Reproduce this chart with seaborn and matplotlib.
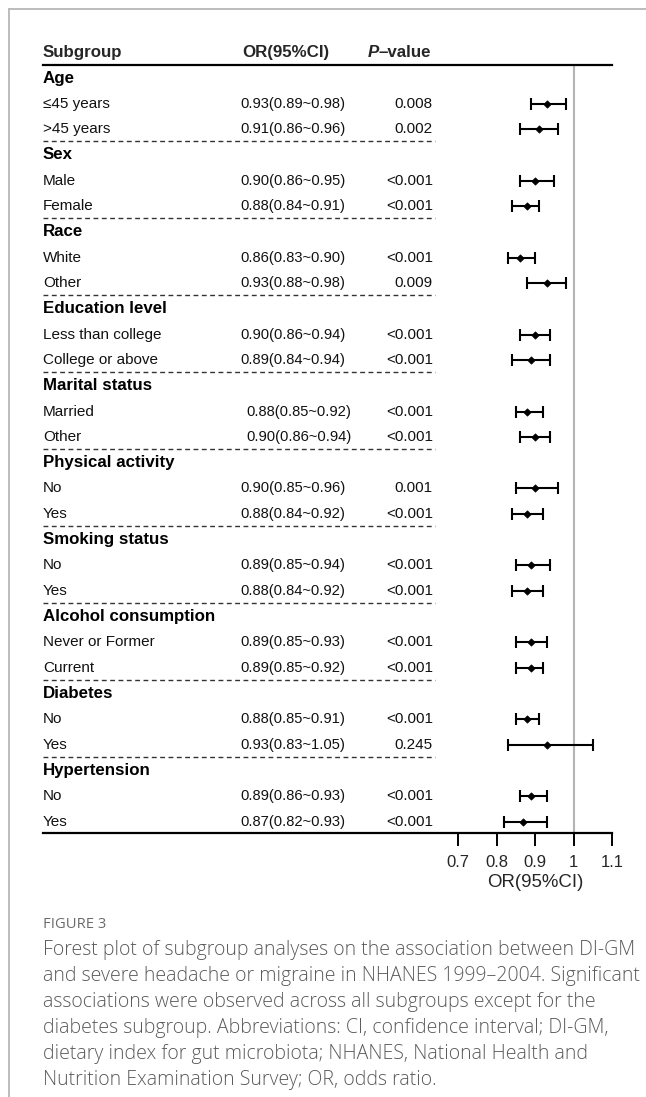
import matplotlib
matplotlib.use("Agg")
import matplotlib.pyplot as plt
import seaborn as sns
import numpy as np
import pandas as pd

sns.set_theme(style="white")
plt.rcParams["font.family"] = ["Liberation Sans", "DejaVu Sans"]

# ---- data -------------------------------------------------------------
groups = ["Age", "Sex", "Race", "Education level", "Marital status",
          "Physical activity", "Smoking status", "Alcohol consumption",
          "Diabetes", "Hypertension"]
subgroups = [["≤45 years", ">45 years"], ["Male", "Female"], ["White", "Other"],
             ["Less than college", "College or above"], ["Married", "Other"],
             ["No", "Yes"], ["No", "Yes"], ["Never or Former", "Current"],
             ["No", "Yes"], ["No", "Yes"]]
or_est = [0.93, 0.91, 0.90, 0.88, 0.86, 0.93, 0.90, 0.89, 0.88, 0.90,
          0.90, 0.88, 0.89, 0.88, 0.89, 0.89, 0.88, 0.93, 0.89, 0.87]
ci_low = [0.89, 0.86, 0.86, 0.84, 0.83, 0.88, 0.86, 0.84, 0.85, 0.86,
          0.85, 0.84, 0.85, 0.84, 0.85, 0.85, 0.85, 0.83, 0.86, 0.82]
ci_high = [0.98, 0.96, 0.95, 0.91, 0.90, 0.98, 0.94, 0.94, 0.92, 0.94,
           0.96, 0.92, 0.94, 0.92, 0.93, 0.92, 0.91, 1.05, 0.93, 0.93]
p_values = ["0.008", "0.002", "<0.001", "<0.001", "<0.001", "0.009",
            "<0.001", "<0.001", "<0.001", "<0.001", "0.001", "<0.001",
            "<0.001", "<0.001", "<0.001", "<0.001", "<0.001", "0.245",
            "<0.001", "<0.001"]
x_ticks = [0.7, 0.8, 0.9, 1.0, 1.1]
x_tick_labels = ["0.7", "0.8", "0.9", "1", "1.1"]

caption_head = "FIGURE 3"
caption_lines = [
    "Forest plot of subgroup analyses on the association between DI-GM",
    "and severe headache or migraine in NHANES 1999\u20132004. Significant",
    "associations were observed across all subgroups except for the",
    "diabetes subgroup. Abbreviations: CI, confidence interval; DI-GM,",
    "dietary index for gut microbiota; NHANES, National Health and",
    "Nutrition Examination Survey; OR, odds ratio.",
]

# ---- table layout -------------------------------------------------------
rows = []
k = 0
for g, subs in zip(groups, subgroups):
    rows.append(dict(label=g, header=True))
    for s in subs:
        rows.append(dict(label=s, header=False, est=or_est[k], lo=ci_low[k],
                         hi=ci_high[k], p=p_values[k], grp=g))
        k += 1
tab = pd.DataFrame(rows)
tab["y"] = np.arange(len(tab))
est = tab[~tab["header"]].copy()

W, H = 646, 1097
fig = plt.figure(figsize=(W / 100, H / 100), dpi=100)

# axes box spans the whole table width; the data scale is OR
ax_l, ax_r, ax_t, ax_b = 43, 612, 65, 833
ax = fig.add_axes([ax_l / W, 1 - ax_b / H, (ax_r - ax_l) / W, (ax_b - ax_t) / H])
px_per_unit = 385.0
x0_px = 458.0


def px2x(px):
    return 0.7 + (px - x0_px) / px_per_unit


ax.set_xlim(px2x(ax_l), px2x(ax_r))
row_h = 25.65
ax.set_ylim(29 + (ax_b - 822) / row_h, -(78 - ax_t) / row_h)

for side in ["left", "right"]:
    ax.spines[side].set_visible(False)
for side in ["top", "bottom"]:
    ax.spines[side].set_color("black")
    ax.spines[side].set_linewidth(1.6)
ax.set_yticks([])
ax.set_xticks(x_ticks)
ax.set_xticklabels(x_tick_labels, fontsize=12)
ax.tick_params(axis="x", direction="out", length=9, width=1.4, color="black",
               pad=7, bottom=True)
ax.grid(False)

# reference line at OR = 1
ax.axvline(1.0, color="#b4b4b4", lw=1.5, zorder=1)

# confidence intervals and point estimates
ax.errorbar(est["est"], est["y"],
            xerr=[est["est"] - est["lo"], est["hi"] - est["est"]],
            fmt="none", ecolor="black", elinewidth=1.5, capsize=4,
            capthick=1.5, zorder=3)
sns.scatterplot(data=est, x="est", y="y", marker="D", s=14, color="black",
                edgecolor="black", linewidth=0.5, ax=ax, zorder=4, legend=False)
ax.set_xlabel("")
ax.set_ylabel("")

fs_head = 12.2
fs_lab = 11.0
fs_val = 10.6
x_lab = px2x(43)
x_p = px2x(433)
for _, r in tab.iterrows():
    if r["header"]:
        ax.text(x_lab, r["y"], r["label"], fontsize=fs_head, fontweight="bold",
                va="center", ha="left", color="black")
    else:
        ax.text(x_lab, r["y"], r["label"], fontsize=fs_lab, va="center",
                ha="left", color="#111111")
        shift = 6 if r["grp"] == "Marital status" else 0
        ax.text(px2x(240 + shift), r["y"],
                f"{r['est']:.2f}({r['lo']:.2f}~{r['hi']:.2f})",
                fontsize=fs_val, va="center", ha="left", color="#111111")
        ax.text(x_p, r["y"], r["p"], fontsize=fs_lab, va="center", ha="right",
                color="#111111")

# dashed separators between groups
for g in groups[:-1]:
    y_last = tab[(tab["grp"] == g)]["y"].max()
    ax.plot([px2x(43), px2x(435)], [y_last + 0.47, y_last + 0.47],
            color="#333333", lw=1.0, ls=(0, (3.5, 2.5)), clip_on=False)

# column headers
y_head = -(78 - 53) / row_h
ax.text(x_lab, y_head, "Subgroup", fontsize=fs_head, fontweight="bold",
        va="center", ha="left", clip_on=False)
ax.text(px2x(286), y_head, "OR(95%CI)", fontsize=fs_head, fontweight="bold",
        va="center", ha="center", clip_on=False)
t_val = ax.text(px2x(431), y_head, "\u2013value", fontsize=fs_head,
                fontweight="bold", va="center", ha="right", clip_on=False)
fig.canvas.draw()
bb = t_val.get_window_extent()
x_left_data = ax.transData.inverted().transform((bb.x0, bb.y0))[0]
ax.text(x_left_data, y_head, "P", fontsize=fs_head, fontweight="bold",
        fontstyle="italic", va="center", ha="right", clip_on=False)

# axis title under the OR scale
ax.text(0.9, 29.43 + (882 - 833) / row_h, "OR(95%CI)", fontsize=13.4,
        va="center", ha="center", clip_on=False)

# page frame
fig.add_artist(plt.Line2D([9 / W, 1], [1 - 9 / H, 1 - 9 / H],
                          color="#b0b0b0", lw=1.2, transform=fig.transFigure))
fig.add_artist(plt.Line2D([9 / W, 9 / W], [0, 1 - 9 / H],
                          color="#b0b0b0", lw=1.2, transform=fig.transFigure))

# caption
cap_font = ["Open Sans", "DejaVu Sans"]
fig.text(43 / W, 1 - 925 / H, caption_head, fontsize=10.6, color="#6a6a6a",
         family=cap_font, va="center", ha="left")
for i, line in enumerate(caption_lines):
    fig.text(43 / W, 1 - (950 + 26 * i) / H, line, fontsize=14.05,
             color="#5a5a5a", family=cap_font, fontweight="light",
             va="center", ha="left")

fig.savefig("out.png", dpi=100, facecolor="white")
